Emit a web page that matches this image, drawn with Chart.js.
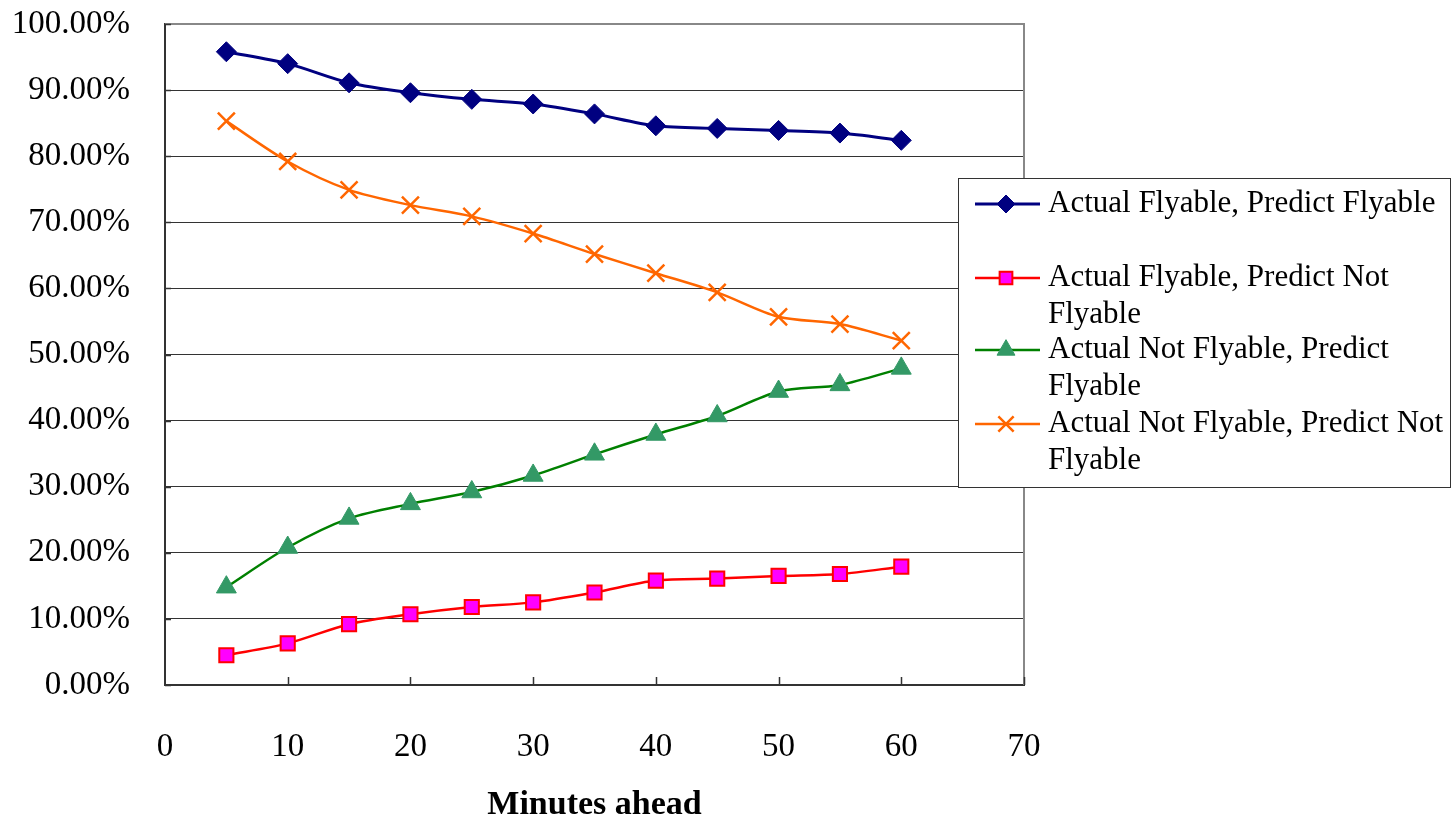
<!DOCTYPE html>
<html lang="en">
<head>
<meta charset="UTF-8">
<title>Prediction rates by minutes ahead</title>
<style>
  html, body { margin: 0; padding: 0; background: #fff; }
  .chartBox { width: 1455px; height: 818px; position: relative; }
</style>
</head>
<body>
<script src="https://cdn.jsdelivr.net/npm/chart.js"></script>
<div class="chartBox"><canvas id="lineChart"></canvas></div>

<script>
  // minutes ahead (x values)
  const minutes = [5, 10, 15, 20, 25, 30, 35, 40, 45, 50, 55, 60];

  // percentages
  const flyFly = [95.8, 94.0, 91.1, 89.6, 88.6, 87.9, 86.4, 84.6, 84.2, 83.9, 83.5, 82.4];
  const flyNot = [4.5, 6.3, 9.2, 10.7, 11.8, 12.5, 14.0, 15.8, 16.1, 16.5, 16.8, 17.9];
  const notFly = [14.8, 20.8, 25.2, 27.4, 29.2, 31.7, 34.9, 37.9, 40.7, 44.4, 45.4, 47.9];
  const notNot = [85.3, 79.2, 74.9, 72.6, 70.9, 68.3, 65.2, 62.3, 59.4, 55.7, 54.6, 52.1];

  const seriesNames = [
    'Actual Flyable, Predict Flyable',
    'Actual Flyable, Predict Not Flyable',
    'Actual Not Flyable, Predict Flyable',
    'Actual Not Flyable, Predict Not Flyable'
  ];
  const xTitle = 'Minutes ahead';

  const FONT_FAMILY = "'Liberation Serif', 'Times New Roman', serif";
  const toPoints = vals => vals.map((v, i) => ({ x: minutes[i], y: v }));

  // legend box drawn over the plot (wrapped labels like the original)
  const legendBox = {
    id: 'legendBox',
    afterDraw(chart) {
      const ctx = chart.ctx;
      const x0 = 958, y0 = 178, w = 492, h = 309;
      const rows = [204, 278, 350, 424];
      ctx.save();
      ctx.fillStyle = '#fff';
      ctx.fillRect(x0, y0, w, h);
      ctx.strokeStyle = '#333';
      ctx.lineWidth = 1;
      ctx.strokeRect(x0 + 0.5, y0 + 0.5, w, h);
      ctx.font = '31px ' + FONT_FAMILY;
      ctx.textBaseline = 'middle';
      chart.data.datasets.forEach((ds, i) => {
        const y = rows[i];
        ctx.strokeStyle = ds.borderColor;
        ctx.lineWidth = ds.borderWidth;
        ctx.beginPath();
        ctx.moveTo(975, y);
        ctx.lineTo(1040, y);
        ctx.stroke();
        ctx.fillStyle = ds.pointBackgroundColor;
        ctx.strokeStyle = ds.pointBorderColor;
        ctx.lineWidth = ds.pointBorderWidth;
        Chart.helpers.drawPoint(ctx, {
          pointStyle: ds.pointStyle,
          radius: ds.pointRadius * 0.9,
          rotation: 0,
          borderWidth: ds.pointBorderWidth
        }, 1006, y);

        // wrap text
        const words = ds.label.split(' ');
        const lines = [];
        let line = '';
        words.forEach(word => {
          const test = line ? line + ' ' + word : word;
          if (ctx.measureText(test).width > 405 && line) {
            lines.push(line);
            line = word;
          } else line = test;
        });
        lines.push(line);
        ctx.fillStyle = '#000';
        lines.forEach((t, k) => ctx.fillText(t, 1048, y + k * 37));
      });
      ctx.restore();
    }
  };

  // inward tick marks + gray top/right frame
  const frame = {
    id: 'frame',
    beforeDatasetsDraw(chart) {
      const { ctx, chartArea: a, scales } = chart;
      ctx.save();
      ctx.strokeStyle = '#888';
      ctx.lineWidth = 2;
      ctx.beginPath();
      ctx.moveTo(a.left, a.top);
      ctx.lineTo(a.right, a.top);
      ctx.lineTo(a.right, a.bottom);
      ctx.stroke();
      ctx.strokeStyle = '#333';
      ctx.lineWidth = 1.5;
      ctx.beginPath();
      for (let v = 10; v <= 70; v += 10) {
        const px = Math.round(scales.x.getPixelForValue(v)) + 0.5;
        ctx.moveTo(px, a.bottom);
        ctx.lineTo(px, a.bottom - 8);
      }
      for (let v = 0; v <= 100; v += 10) {
        const py = Math.round(scales.y.getPixelForValue(v)) + 0.5;
        ctx.moveTo(a.left, py);
        ctx.lineTo(a.left + 6, py);
      }
      ctx.stroke();
      ctx.restore();
    }
  };

  const tickFont = { family: FONT_FAMILY, size: 33 };

  const ctx = document.getElementById('lineChart').getContext('2d');
  const lineChart = new Chart(ctx, {
    type: 'line',
    data: {
      datasets: [{
        label: seriesNames[0],
        data: toPoints(flyFly),
        borderColor: '#000080',
        borderWidth: 3,
        pointStyle: 'rectRot',
        pointRadius: 10,
        pointBackgroundColor: '#000080',
        pointBorderColor: '#000080',
        pointBorderWidth: 1,
        tension: 0.3
      }, {
        label: seriesNames[1],
        data: toPoints(flyNot),
        borderColor: '#ff0000',
        borderWidth: 2.5,
        pointStyle: 'rect',
        pointRadius: 10,
        pointBackgroundColor: '#ff00ff',
        pointBorderColor: '#ff0000',
        pointBorderWidth: 2,
        tension: 0.3
      }, {
        label: seriesNames[2],
        data: toPoints(notFly),
        borderColor: '#008000',
        borderWidth: 2.5,
        pointStyle: 'triangle',
        pointRadius: 11.5,
        pointBackgroundColor: '#339966',
        pointBorderColor: '#339966',
        pointBorderWidth: 1,
        tension: 0.3
      }, {
        label: seriesNames[3],
        data: toPoints(notNot),
        borderColor: '#ff6600',
        borderWidth: 2.5,
        pointStyle: 'crossRot',
        pointRadius: 12,
        pointBackgroundColor: '#ff6600',
        pointBorderColor: '#ff6600',
        pointBorderWidth: 2.5,
        tension: 0.3
      }]
    },
    options: {
      responsive: true,
      maintainAspectRatio: false,
      animation: false,
      layout: { padding: { top: 24, right: 431, bottom: 0, left: 0 } },
      plugins: {
        legend: { display: false },
        tooltip: { enabled: false }
      },
      scales: {
        x: {
          type: 'linear',
          min: 0,
          max: 70,
          ticks: { stepSize: 10, padding: 43, color: '#000', font: tickFont },
          grid: { display: false, drawTicks: false },
          border: { color: '#333', width: 2 },
          title: {
            display: true,
            text: xTitle,
            color: '#000',
            font: { family: FONT_FAMILY, size: 34, weight: 'bold', lineHeight: 0.75 },
            padding: 0
          },
          afterFit(scale) {
            scale.height = 133;
            scale.paddingLeft = 0;
            scale.paddingRight = 0;
          }
        },
        y: {
          min: 0,
          max: 100,
          ticks: {
            stepSize: 10,
            padding: 35,
            color: '#000',
            font: tickFont,
            callback: v => v.toFixed(2) + '%'
          },
          grid: { color: '#333', lineWidth: 1, drawTicks: false },
          border: { color: '#333', width: 2 },
          afterFit(scale) {
            scale.width = 165;
            scale.paddingTop = 0;
            scale.paddingBottom = 0;
          }
        }
      }
    },
    plugins: [frame, legendBox]
  });
</script>
</body>
</html>
